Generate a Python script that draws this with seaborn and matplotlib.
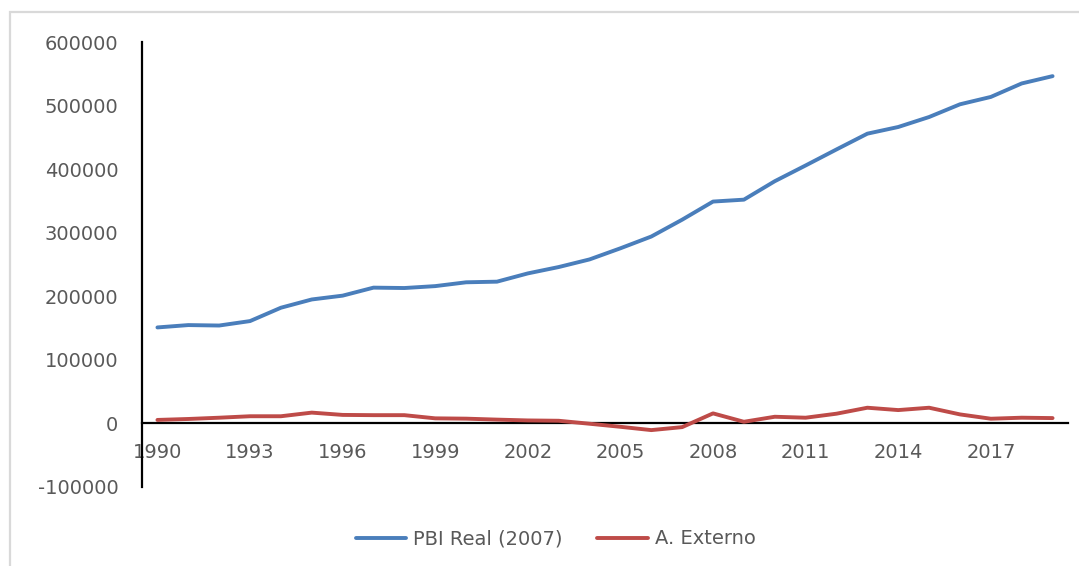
import matplotlib
matplotlib.use("Agg")
import matplotlib.pyplot as plt
from matplotlib.patches import Rectangle
import pandas as pd
import seaborn as sns

# Series values by year
years = list(range(1990, 2020))
pbi_real = [151000, 154700, 154000, 161000, 182000, 195000, 201000, 213600, 213000, 216000,
            222000, 223000, 236000, 246000, 258000, 275500, 294000, 320500, 349000, 352000,
            381000, 405800, 431000, 455800, 466300, 482000, 502000, 513600, 534800, 546300]
a_externo = [5500, 7000, 9000, 11300, 11300, 17000, 13400, 13000, 13000, 8000,
             7500, 6000, 4700, 4200, -500, -5300, -10500, -5800, 15800, 2600,
             10500, 9000, 15300, 24700, 21000, 24700, 14200, 7400, 9000, 8400]
series_names = ["PBI Real (2007)", "A. Externo"]
x_tick_years = list(range(1990, 2020, 3))
y_ticks = list(range(-100000, 600001, 100000))

df = pd.DataFrame({"Año": years, series_names[0]: pbi_real, series_names[1]: a_externo})
long_df = df.melt(id_vars="Año", var_name="Serie", value_name="Valor")

sns.set_theme(style="white")
plt.rcParams["font.family"] = ["DejaVu Sans"]
text_color = "#595959"
fs = 14

W, H = 1079, 566
fig = plt.figure(figsize=(W / 100, H / 100), dpi=100)
fig.patch.set_facecolor("white")

# outer chart frame
fig.patches.append(Rectangle((10 / W, -0.2), 1.5, 1.2 - 12 / H, transform=fig.transFigure,
                             fill=False, edgecolor="#d9d9d9", linewidth=1.6, zorder=0))

ax = fig.add_axes([142 / W, 1 - 487 / H, (1068 - 142) / W, (487 - 42) / H])
palette = {series_names[0]: "#4a7ebb", series_names[1]: "#be4b48"}
sns.lineplot(data=long_df, x="Año", y="Valor", hue="Serie", hue_order=series_names,
             palette=palette, linewidth=2.8, ax=ax, legend=False, estimator=None, zorder=3)

ax.set_xlim(1989.5, 2019.5)
ax.set_ylim(-100000, 600000)
ax.set_yticks(y_ticks)
ax.set_yticklabels([str(v) for v in y_ticks])
ax.set_xticks(x_tick_years)
ax.set_xticklabels([str(v) for v in x_tick_years])
ax.set_xlabel("")
ax.set_ylabel("")

for side in ["top", "right"]:
    ax.spines[side].set_visible(False)
ax.spines["bottom"].set_position(("data", 0))
for side in ["left", "bottom"]:
    ax.spines[side].set_color("black")
    ax.spines[side].set_linewidth(1.6)
    ax.spines[side].set_zorder(1)

ax.tick_params(axis="y", length=0, pad=17, labelsize=fs, labelcolor=text_color)
ax.tick_params(axis="x", length=0, pad=14, labelsize=fs, labelcolor=text_color)
ax.grid(False)
ax.set_facecolor("none")

handles = [plt.Line2D([], [], color=palette[n], linewidth=2.8) for n in series_names]
fig.legend(handles, series_names, loc="center", bbox_to_anchor=(0.515, 1 - 539 / H), ncol=2,
           frameon=False, fontsize=fs, labelcolor=text_color, handlelength=2.6,
           handletextpad=0.36, columnspacing=1.75)

fig.savefig("out.png", dpi=100, facecolor="white")
